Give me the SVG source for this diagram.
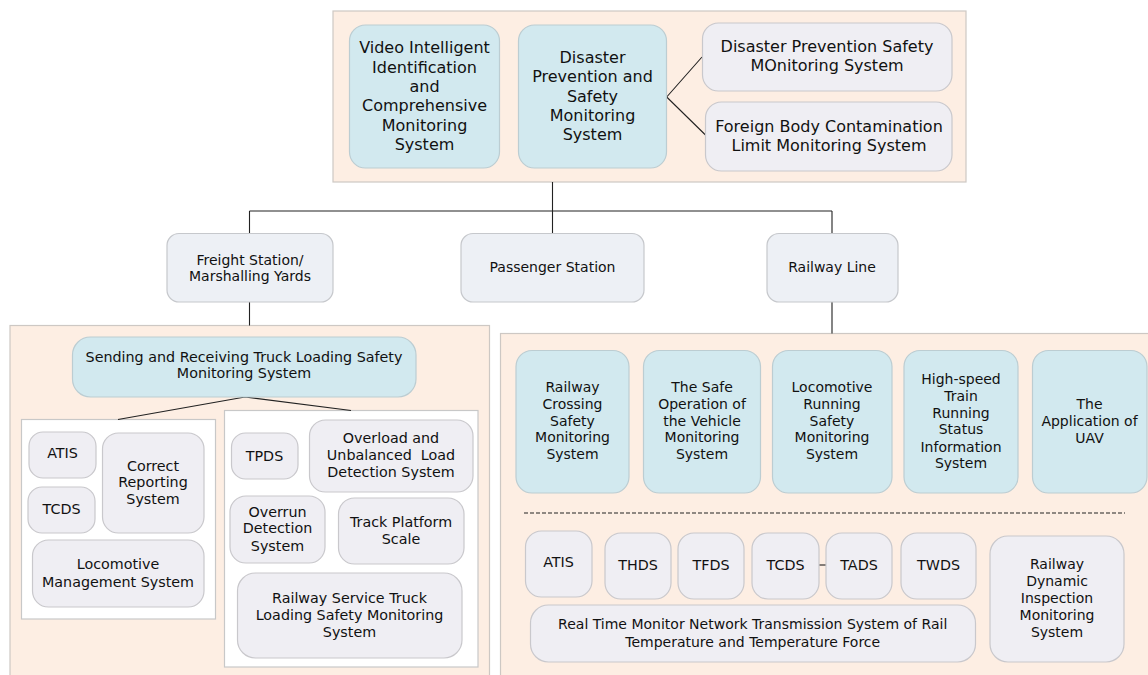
<svg xmlns="http://www.w3.org/2000/svg" width="1148" height="675" viewBox="0 0 1148 675">
<style>
.cont{fill:#fdeee3;stroke:#cdc8c4;stroke-width:1.2}
.wbox{fill:#ffffff;stroke:#c8c8c8;stroke-width:1.2}
.blue{fill:#d2e9ef;stroke:#bccdd2;stroke-width:1.2}
.gray{fill:#efeef3;stroke:#c9c8cc;stroke-width:1.2}
.mid{fill:#edf0f5;stroke:#c6c8cc;stroke-width:1.2}
text{font-family:"DejaVu Sans","Verdana",sans-serif;fill:#111;text-anchor:middle;font-size:14.3px}
.t16{font-size:16px}
.t14{font-size:14px}
.con{stroke:#222;stroke-width:1.1;fill:none}
</style>
<rect class="cont" x="333" y="11" width="633" height="171"/>
<rect class="cont" x="10" y="325.5" width="479.5" height="360"/>
<rect class="cont" x="500.5" y="333.5" width="660" height="360"/>
<rect class="wbox" x="21.5" y="419.5" width="194" height="199.5"/>
<rect class="wbox" x="224.5" y="410.5" width="253.5" height="256.5"/>
<g id="connectors">
<path class="con" d="M552.5 182V211M249.5 211H832M249.5 211V233M552.5 211V233M832 211V233M249.5 302V325.5M832 302V333.5"/>
<path class="con" d="M666.7 97L702 57M666.7 97L705.5 135"/>
<path class="con" d="M245 397L118 419.5M245 397L351 410.5"/>
<path class="con" d="M819 565H826"/>
<path class="con" d="M524 513H1125" stroke-dasharray="4 2"/>
</g>
<g id="video"><rect class="blue" x="349.5" y="25" width="150" height="143" rx="16"/>
<text class="t16"><tspan x="424.5" y="53.3">Video Intelligent</tspan><tspan x="424.5" y="72.6">Identification</tspan><tspan x="424.5" y="91.9">and</tspan><tspan x="424.5" y="111.2">Comprehensive</tspan><tspan x="424.5" y="130.5">Monitoring</tspan><tspan x="424.5" y="149.8">System</tspan></text></g>
<g id="disaster"><rect class="blue" x="518.5" y="25" width="148" height="143" rx="16"/>
<text class="t16"><tspan x="592.5" y="63">Disaster</tspan><tspan x="592.5" y="82.3">Prevention and</tspan><tspan x="592.5" y="101.6">Safety</tspan><tspan x="592.5" y="120.9">Monitoring</tspan><tspan x="592.5" y="140.2">System</tspan></text></g>
<g id="dps"><rect class="gray" x="702.5" y="23" width="249.5" height="68" rx="16"/>
<text class="t16"><tspan x="827" y="52.3">Disaster Prevention Safety</tspan><tspan x="827" y="71.3">MOnitoring System</tspan></text></g>
<g id="foreign"><rect class="gray" x="705.5" y="102" width="246.5" height="69" rx="16"/>
<text class="t16"><tspan x="829" y="131.6">Foreign Body Contamination</tspan><tspan x="829" y="150.6">Limit Monitoring System</tspan></text></g>
<g id="freight"><rect class="mid" x="167" y="233.5" width="166" height="68.5" rx="12"/>
<text class="t14"><tspan x="250" y="265">Freight Station/</tspan><tspan x="250" y="281">Marshalling Yards</tspan></text></g>
<g id="passenger"><rect class="mid" x="461" y="233.5" width="183" height="68.5" rx="12"/>
<text class="t14" x="552.5" y="271.7">Passenger Station</text></g>
<g id="railwayline"><rect class="mid" x="767" y="233.5" width="131" height="68.5" rx="12"/>
<text class="t14" x="832" y="271.7">Railway Line</text></g>
<g id="sending"><rect class="blue" x="72.5" y="337" width="343.5" height="60" rx="18"/>
<text><tspan x="244" y="361.7">Sending and Receiving Truck Loading Safety</tspan><tspan x="244" y="378.3">Monitoring System</tspan></text></g>
<g id="atis1"><rect class="gray" x="29" y="432" width="67" height="46" rx="14"/><text x="62.5" y="458.3">ATIS</text></g>
<g id="tcds1"><rect class="gray" x="28" y="487" width="67" height="46" rx="14"/><text x="61.5" y="514.3">TCDS</text></g>
<g id="correct"><rect class="gray" x="102.5" y="433" width="101.5" height="100" rx="16"/>
<text><tspan x="153" y="470.7">Correct</tspan><tspan x="153" y="487.3">Reporting</tspan><tspan x="153" y="504.3">System</tspan></text></g>
<g id="locomgmt"><rect class="gray" x="32.5" y="540" width="171.5" height="67" rx="16"/>
<text><tspan x="118" y="569.3">Locomotive</tspan><tspan x="118" y="586.7">Management System</tspan></text></g>
<g id="tpds"><rect class="gray" x="231.5" y="433" width="66.5" height="46" rx="14"/><text x="264.5" y="460.7">TPDS</text></g>
<g id="overload"><rect class="gray" x="309.5" y="420" width="163.5" height="72" rx="16"/>
<text xml:space="preserve"><tspan x="391" y="442.7">Overload and</tspan><tspan x="391" y="460">Unbalanced  Load</tspan><tspan x="391" y="476.7">Detection System</tspan></text></g>
<g id="overrun"><rect class="gray" x="230" y="496" width="95" height="67" rx="16"/>
<text><tspan x="277.5" y="516.7">Overrun</tspan><tspan x="277.5" y="533.3">Detection</tspan><tspan x="277.5" y="550.7">System</tspan></text></g>
<g id="trackscale"><rect class="gray" x="338.5" y="498" width="125.5" height="66" rx="16"/>
<text><tspan x="401" y="526.7">Track Platform</tspan><tspan x="401" y="544">Scale</tspan></text></g>
<g id="railservice"><rect class="gray" x="237.5" y="573" width="224.5" height="85" rx="18"/>
<text><tspan x="349.5" y="602.7">Railway Service Truck</tspan><tspan x="349.5" y="620">Loading Safety Monitoring</tspan><tspan x="349.5" y="636.7">System</tspan></text></g>
<g id="crossing"><rect class="blue" x="516" y="350.5" width="113" height="142.5" rx="16"/>
<text class="t14"><tspan x="572.5" y="391.7">Railway</tspan><tspan x="572.5" y="408.6">Crossing</tspan><tspan x="572.5" y="425.5">Safety</tspan><tspan x="572.5" y="442.4">Monitoring</tspan><tspan x="572.5" y="459.3">System</tspan></text></g>
<g id="vehicle"><rect class="blue" x="643.5" y="350.5" width="117" height="142.5" rx="16"/>
<text class="t14"><tspan x="702" y="391.7">The Safe</tspan><tspan x="702" y="408.6">Operation of</tspan><tspan x="702" y="425.5">the Vehicle</tspan><tspan x="702" y="442.4">Monitoring</tspan><tspan x="702" y="459.3">System</tspan></text></g>
<g id="locorun"><rect class="blue" x="772.5" y="350.5" width="119.5" height="142.5" rx="16"/>
<text class="t14"><tspan x="832" y="391.7">Locomotive</tspan><tspan x="832" y="408.6">Running</tspan><tspan x="832" y="425.5">Safety</tspan><tspan x="832" y="442.4">Monitoring</tspan><tspan x="832" y="459.3">System</tspan></text></g>
<g id="highspeed"><rect class="blue" x="904" y="350.5" width="114" height="142.5" rx="16"/>
<text class="t14"><tspan x="961" y="384.3">High-speed</tspan><tspan x="961" y="401">Train</tspan><tspan x="961" y="417.7">Running</tspan><tspan x="961" y="434.3">Status</tspan><tspan x="961" y="451.7">Information</tspan><tspan x="961" y="468.3">System</tspan></text></g>
<g id="uav"><rect class="blue" x="1032.5" y="350.5" width="114.5" height="142.5" rx="16"/>
<text class="t14"><tspan x="1089.5" y="409.3">The</tspan><tspan x="1089.5" y="426">Application of</tspan><tspan x="1089.5" y="442.7">UAV</tspan></text></g>
<g id="atis2"><rect class="gray" x="525.5" y="531" width="66.5" height="66" rx="16"/><text x="558.5" y="567.3">ATIS</text></g>
<g id="thds"><rect class="gray" x="605" y="533" width="66" height="66" rx="16"/><text x="638" y="570">THDS</text></g>
<g id="tfds"><rect class="gray" x="678" y="533" width="66" height="66" rx="16"/><text x="711" y="570">TFDS</text></g>
<g id="tcds2"><rect class="gray" x="752" y="533" width="67" height="66" rx="16"/><text x="785.5" y="570">TCDS</text></g>
<g id="tads"><rect class="gray" x="826" y="533" width="66" height="66" rx="16"/><text x="859" y="570">TADS</text></g>
<g id="twds"><rect class="gray" x="901" y="533" width="75" height="66" rx="16"/><text x="938.5" y="570">TWDS</text></g>
<g id="realtime"><rect class="gray" x="530.5" y="605" width="445" height="57" rx="18"/>
<text class="t14"><tspan x="752.7" y="629.3">Real Time Monitor Network Transmission System of Rail</tspan><tspan x="752.7" y="646.7">Temperature and Temperature Force</tspan></text></g>
<g id="dynamic"><rect class="gray" x="990" y="536" width="134" height="126" rx="18"/>
<text class="t14"><tspan x="1057" y="569">Railway</tspan><tspan x="1057" y="585.7">Dynamic</tspan><tspan x="1057" y="602.7">Inspection</tspan><tspan x="1057" y="620">Monitoring</tspan><tspan x="1057" y="636.7">System</tspan></text></g>
</svg>
